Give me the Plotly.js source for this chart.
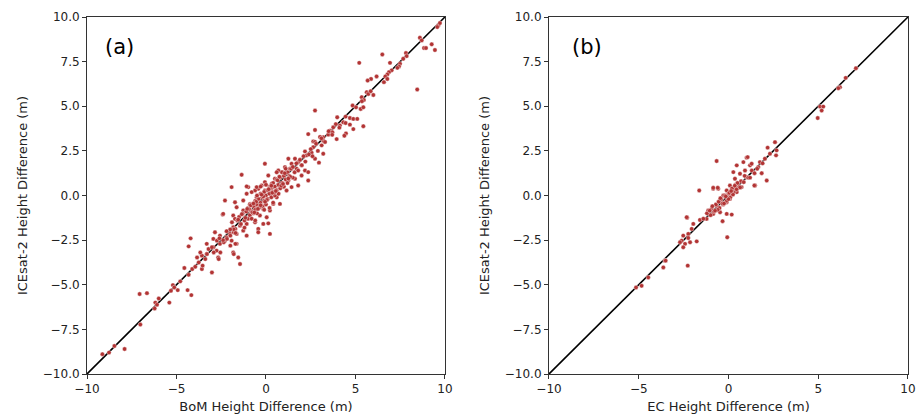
<!DOCTYPE html>
<html>
<head>
<meta charset="utf-8">
<script src="https://cdn.plot.ly/plotly-3.0.1.min.js"></script>
<style>html,body{margin:0;padding:0;background:#fff;}</style>
</head>
<body>
<div id="chart" style="width:921px;height:419px;"></div>
<script>
// Panel (a): BoM vs ICESat-2 height differences (m)
const bomX = [9.63,9.72,9.57,8.60,8.70,9.26,8.83,8.94,9.44,8.45,6.50,5.21,7.82,7.86,7.67,6.93,7.49,7.43,7.34,7.02,6.87,6.78,6.67,6.78,6.59,6.18,5.87,5.68,5.63,5.72,5.85,6.00,5.35,5.47,5.36,4.84,5.03,5.29,5.44,2.74,4.45,3.98,4.69,4.88,5.10,4.32,4.45,4.69,4.13,3.76,5.44,4.88,3.58,3.71,4.47,3.48,4.38,3.95,3.20,2.36,2.74,3.20,2.64,
3.02,2.74,3.11,2.64,2.18,2.55,2.27,2.74,2.96,3.20,1.25,1.62,1.80,1.43,1.99,1.06,1.34,1.71,2.18,2.36,1.99,1.62,1.25,0.88,0.69,0.50,0.13,-0.06,0.32,0.69,0.97,1.43,-0.24,-0.43,-0.61,-0.06,0.32,-0.80,-0.99,-0.52,-1.08,-1.36,-1.92,-0.06,
-2.29,-1.73,-1.64,-2.42,-1.83,-1.73,-1.27,-0.89,-0.52,-0.15,0.22,0.60,0.78,1.15,-1.27,-0.89,-0.52,-0.15,0.22,-0.34,0.04,0.41,-0.61,-0.15,0.13,-1.08,-1.45,-1.83,-1.27,-1.64,-2.01,-2.20,-1.92,-2.29,-2.57,-0.43,-0.43,0.22,-1.08,-1.64,-1.83,-1.55,-1.45,-2.76,-2.94,-3.31,-2.67,-2.85,-2.57,-2.94,-3.31,
-9.14,-8.77,-8.47,-7.90,-7.02,-7.06,-6.65,-6.18,-5.99,-6.09,-6.22,-5.40,-5.20,-5.12,-5.31,-4.93,-4.79,-4.38,-4.17,-4.56,-4.32,-4.12,-3.95,-3.76,-3.58,-3.54,-3.02,-4.32,-4.21,-3.85,-3.58,-3.39,-3.67,-3.30,-3.21,-3.02,-2.74,-2.36,-2.18,-1.99,-1.80,-1.71,-2.55,-2.92,-2.64,-1.80,-1.99,-1.71,
-1.08,-2.39,1.80,2.36,
-1.5,-1.4,-1.3,-1.2,-1.1,-1.0,-1.0,-0.9,-0.9,-0.8,-0.8,-0.7,-0.7,-0.6,-0.6,-0.5,-0.5,-0.4,-0.4,-0.3,-0.3,-0.2,-0.2,-0.1,-0.1,0.0,0.0,0.1,0.1,0.2,0.2,0.3,0.3,0.4,0.4,0.5,0.5,0.6,0.6,0.7,0.8,0.8,0.9,1.0,1.0,1.1,1.2,1.2,1.3,1.4,1.5,1.5,1.6,1.7,1.8,1.9,2.0,2.1,2.2,2.4,2.5,2.6,2.8,2.9,3.1,3.3,3.5,3.7,3.9,4.1,
-1.8,-1.6,-1.7,-2.0,-2.2,-2.4,-2.6,-1.9,-1.2,-0.6,0.0,-0.3,0.4,0.7,1.1,0.9,-0.1,-0.5,0.2,0.6,
-1.15,-0.95,-0.75,-0.55,-0.35,-0.15,0.05,0.25,0.45,0.65,0.85,1.05,-1.35,-0.65,-0.25,0.35,0.75,1.35,-0.85,-0.45,0.15,0.55,-1.55,-0.05,0.95,-0.7,-0.3,0.3,1.25,-1.05];
const bomY = [9.53,9.66,9.44,8.84,8.69,8.47,8.26,8.26,8.15,5.94,7.90,7.43,7.98,7.81,7.66,7.43,7.38,7.23,7.15,7.01,6.91,6.78,6.67,6.53,6.35,6.67,6.53,6.44,5.79,5.69,5.84,5.63,5.51,5.35,5.28,5.04,4.94,4.85,4.94,4.76,4.42,4.38,4.34,4.29,4.29,4.10,4.06,3.97,3.92,3.82,3.88,3.72,3.63,3.54,3.48,3.41,3.35,3.16,3.26,3.44,3.67,3.07,3.03,
3.28,3.00,2.81,2.71,2.47,2.40,2.25,2.06,1.84,2.34,2.06,2.06,1.87,1.78,1.69,1.59,1.50,1.50,1.40,1.31,1.12,0.94,0.84,1.31,1.40,0.94,1.12,0.75,0.66,0.56,0.47,0.47,0.56,0.38,0.28,0.28,0.19,0.19,0.47,0.47,0.10,1.16,0.47,1.78,
-0.28,-0.38,-0.66,-1.07,-1.12,-1.31,-0.28,-0.47,-0.10,0.10,0.19,-0.10,-0.47,0.28,-0.84,-0.84,-0.66,-0.75,-0.84,-1.12,-1.22,-0.47,-1.50,-1.59,-1.56,-1.59,-1.69,-1.78,-1.97,-2.15,-2.15,-2.34,-2.53,-2.53,-2.71,-1.87,-2.06,-2.15,-2.25,-2.71,-3.19,-3.47,-3.84,-3.09,-2.90,-3.28,-3.47,-2.06,-2.25,-2.43,-2.71,
-8.89,-8.80,-8.43,-8.60,-7.23,-5.52,-5.47,-6.00,-5.77,-6.12,-6.33,-6.00,-5.02,-5.15,-5.34,-5.30,-4.81,-5.30,-5.58,-4.06,-4.44,-4.12,-3.99,-3.75,-4.12,-3.93,-4.31,-2.85,-2.40,-3.47,-3.37,-3.56,-3.19,-3.28,-3.00,-2.90,-2.53,-2.62,-2.43,-2.25,-2.06,-1.87,-3.19,-3.19,-3.56,-3.28,-2.81,-2.71,
0.51,-1.03,0.56,0.84,
-1.2,-1.6,-1.0,-1.4,-0.9,-1.3,-0.7,-1.1,-0.5,-0.9,-1.3,-0.6,-1.0,-0.3,-0.8,-0.5,-1.0,-0.2,-0.7,-0.4,0.1,-0.6,-0.1,0.2,-0.3,0.0,-0.5,0.3,-0.2,0.1,0.5,-0.1,0.4,0.2,0.7,0.0,0.5,0.3,0.9,0.6,0.4,1.0,0.7,1.1,0.5,0.9,1.3,0.7,1.1,1.5,1.0,1.6,1.3,1.8,1.4,2.0,1.7,2.2,1.9,2.3,2.6,2.2,2.9,2.5,3.2,3.0,3.6,3.4,4.0,3.8,
-1.9,-1.4,-2.1,-1.9,-2.0,-2.5,-2.4,-1.5,-1.8,-1.4,0.6,0.5,-0.4,0.1,1.5,1.3,-0.8,0.0,-0.7,1.3,
-1.25,-0.75,-0.95,-0.35,-0.65,-0.05,-0.25,0.45,0.15,0.85,0.55,1.25,-1.05,-0.95,0.05,0.15,1.05,1.05,-0.55,-0.75,0.35,0.25,-1.35,-0.35,0.65,-0.45,-0.55,0.55,0.95,-0.75];

// Panel (b): EC vs ICESat-2 height differences (m)
const ecX = [7.10,6.53,6.21,6.12,5.10,5.28,5.19,4.97,
2.59,2.18,2.68,2.65,2.31,2.03,2.13,1.85,1.75,1.66,1.48,1.20,1.29,1.01,0.83,0.46,0.27,0.64,0.92,1.01,0.83,0.73,0.36,0.08,-0.66,-0.85,-0.57,-1.63,-0.10,0.27,0.46,-0.29,0.08,-0.10,-0.47,-0.66,-0.94,-1.13,-0.85,-0.47,-0.10,0.18,-0.33,-1.22,-1.59,-2.30,-1.96,-2.05,-2.24,-2.52,-2.61,-2.42,-2.14,-1.77,-0.07,-2.52,-3.54,-3.63,-2.27,
-5.15,-4.84,-4.47,-3.50,-2.70,-2.24,-2.33,-0.85,-0.60,1.44,1.07,
-0.4,-0.2,0.0,0.1,0.3,0.5,-0.5,-0.3,-0.1,0.2,0.4,0.6,-0.8,-0.6,0.7,0.9,1.1,1.3,-1.0,-1.2,-1.4,0.0,-0.2,0.2,1.6,1.9,-0.7,0.5,-0.9,1.2,
-0.35,-0.15,0.05,0.25,0.45,-0.55,-0.25,0.15,0.35,0.65,-0.75,0.85,-1.05,1.45,-0.45];
const ecY = [7.13,6.59,6.07,6.01,4.98,4.98,4.76,4.34,
2.99,2.68,2.53,2.25,2.34,2.06,0.84,1.25,1.87,1.59,0.56,1.69,1.78,2.12,1.87,1.69,1.31,1.22,1.40,1.03,0.75,0.47,0.94,0.56,1.93,0.38,0.38,0.28,0.28,0.38,0.19,0.00,-0.19,-0.38,-0.28,-0.56,-0.75,-0.84,-1.03,-0.94,-1.03,-1.07,-1.44,-1.31,-1.37,-1.25,-1.59,-1.87,-2.15,-2.25,-2.53,-2.71,-2.62,-2.57,-2.34,-2.90,-3.65,-4.03,-3.93,
-5.15,-5.06,-4.59,-3.65,-2.62,-2.38,-1.22,0.43,0.43,0.56,2.15,
-0.2,-0.4,0.1,-0.1,0.2,0.4,-0.7,-0.5,-0.3,0.3,0.6,0.5,-0.9,-0.8,0.8,1.1,1.0,1.4,-1.1,-1.0,-1.3,-0.2,0.0,0.4,1.5,1.8,-0.5,0.7,-0.6,1.0,
-0.45,-0.05,0.15,0.05,0.35,-0.35,-0.45,0.25,0.55,0.45,-0.85,0.75,-0.85,1.25,-0.15];

const lineXY = [-10, 10];
const yTicks = [-10, -7.5, -5, -2.5, 0, 2.5, 5, 7.5, 10];
const xTicks = [-10, -5, 0, 5, 10];

const markerStyle = {size: 4.4, color: 'rgb(178,52,52)', line: {color: 'white', width: 0.4}};
const lineStyle = {color: 'black', width: 1.6};

const traces = [
  {x: lineXY, y: lineXY, mode: 'lines', line: lineStyle, xaxis: 'x', yaxis: 'y', hoverinfo: 'skip'},
  {x: bomX, y: bomY, mode: 'markers', marker: markerStyle, xaxis: 'x', yaxis: 'y'},
  {x: lineXY, y: lineXY, mode: 'lines', line: lineStyle, xaxis: 'x2', yaxis: 'y2', hoverinfo: 'skip'},
  {x: ecX, y: ecY, mode: 'markers', marker: markerStyle, xaxis: 'x2', yaxis: 'y2'}
];

const font = {family: 'DejaVu Sans', size: 12, color: '#222'};
function xa(domain, title, anchor) {
  return {domain: domain, range: [-10, 10], tickvals: xTicks, ticks: 'outside', ticklen: 4, tickcolor: '#333',
    showgrid: false, zeroline: false, showline: true, mirror: true, linecolor: '#333', linewidth: 1,
    tickfont: font, anchor: anchor, title: {text: title, font: {family: 'DejaVu Sans', size: 13, color: '#222'}, standoff: 6}};
}
function ya(anchor) {
  return {domain: [0, 1], range: [-10, 10], tickvals: yTicks, tickformat: '.1f', ticks: 'outside', ticklen: 4, tickcolor: '#333',
    showgrid: false, zeroline: false, showline: true, mirror: true, linecolor: '#333', linewidth: 1,
    tickfont: font, anchor: anchor, title: {text: 'ICEsat-2 Height Difference (m)', font: {family: 'DejaVu Sans', size: 13, color: '#222'}, standoff: 12}};
}

const layout = {
  width: 921, height: 419,
  margin: {l: 87, r: 13, t: 17, b: 45},
  showlegend: false,
  paper_bgcolor: 'white', plot_bgcolor: 'white',
  xaxis: xa([0, 0.436], 'BoM Height Difference (m)', 'y'),
  yaxis: ya('x'),
  xaxis2: xa([0.5627, 1], 'EC Height Difference (m)', 'y2'),
  yaxis2: ya('x2'),
  annotations: [
    {text: '(a)', xref: 'x domain', yref: 'y domain', x: 0.045, y: 0.915, xanchor: 'left', yanchor: 'middle', showarrow: false, font: {family: 'DejaVu Sans', size: 21, color: 'black'}},
    {text: '(b)', xref: 'x2 domain', yref: 'y2 domain', x: 0.058, y: 0.915, xanchor: 'left', yanchor: 'middle', showarrow: false, font: {family: 'DejaVu Sans', size: 21, color: 'black'}}
  ]
};

Plotly.newPlot('chart', traces, layout, {displayModeBar: false, staticPlot: true});
</script>
</body>
</html>
